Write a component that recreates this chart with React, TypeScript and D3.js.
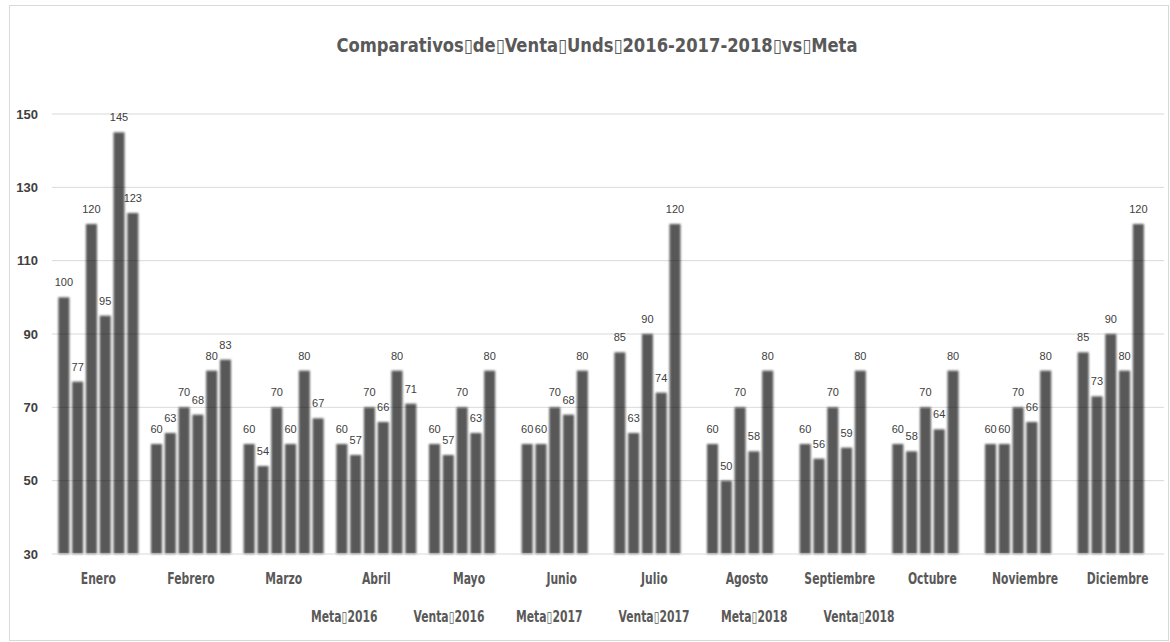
import React from "react";
import * as d3 from "d3";

const months = ["Enero","Febrero","Marzo","Abril","Mayo","Junio","Julio","Agosto","Septiembre","Octubre","Noviembre","Diciembre"];
const seriesNames = ["Meta\u25AF2016","Venta\u25AF2016","Meta\u25AF2017","Venta\u25AF2017","Meta\u25AF2018","Venta\u25AF2018"];
const meta2016 = [100,60,60,60,60,60,85,60,60,60,60,85];
const venta2016 = [77,63,54,57,57,60,63,50,56,58,60,73];
const meta2017 = [120,70,70,70,70,70,90,70,70,70,70,90];
const venta2017 = [95,68,60,66,63,68,74,58,59,64,66,80];
const meta2018 = [145,80,80,80,80,80,120,80,80,80,80,120];
const venta2018: (number | null)[] = [123,83,67,71,null,null,null,null,null,null,null,null];
const yTicks = [30,50,70,90,110,130,150];
const title = "Comparativos\u25AFde\u25AFVenta\u25AFUnds\u25AF2016-2017-2018\u25AFvs\u25AFMeta";

const W = 1170, H = 642;

export default function App() {
  const series = [meta2016, venta2016, meta2017, venta2017, meta2018, venta2018];
  const x0 = d3.scaleBand<string>().domain(months).range([52, 1164]).paddingInner(0.107).paddingOuter(0.0535);
  const x1 = d3.scaleBand<number>().domain(d3.range(6)).range([0, x0.bandwidth()]).paddingInner(0.2).paddingOuter(0.1);
  const y = d3.scaleLinear().domain([30, 150]).range([554, 114]);
  const narrow = "'Liberation Sans Narrow','DejaVu Sans Condensed',sans-serif";
  const sans = "'Liberation Sans',Arial,sans-serif";
  const sx = 0.8;

  const bars: { key: string; x: number; y: number; w: number; h: number; v: number }[] = [];
  months.forEach((m, i) => {
    series.forEach((s, j) => {
      const v = s[i];
      if (v == null) return;
      bars.push({ key: m + j, x: (x0(m) as number) + (x1(j) as number), y: y(v), w: x1.bandwidth(), h: y(30) - y(v), v });
    });
  });

  return (
    <svg width={W} height={H} style={{ position: "absolute", left: 0, top: 0, background: "#fff" }}>
      <defs>
        <filter id="soft" x="-30%" y="-10%" width="160%" height="120%">
          <feGaussianBlur stdDeviation="0.9" />
        </filter>
      </defs>
      <rect x={9.5} y={5.5} width={1159} height={635} fill="#fff" stroke="#d9d9d9" />
      <text x={597} y={52} textAnchor="middle" fontFamily={narrow} fontWeight="bold" fontSize={19} fill="#595959" textLength={521} lengthAdjust="spacingAndGlyphs">{title}</text>
      {yTicks.map(t => (
        <text key={t} x={38} y={y(t) + 4.5} textAnchor="end" fontFamily={sans} fontWeight="bold" fontSize={13} fill="#404040">{t}</text>
      ))}
      <g filter="url(#soft)">
        {bars.map(b => (
          <rect key={b.key} x={b.x} y={b.y} width={b.w} height={b.h} fill="#595959" />
        ))}
      </g>
      {yTicks.map(t => (
        <line key={t} x1={52} x2={1164} y1={y(t)} y2={y(t)} stroke={t === 30 ? "#d9d9d9" : "rgba(0,0,0,0.15)"} strokeWidth={1} />
      ))}
      {bars.map(b => (
        <text key={"l" + b.key} x={b.x + b.w / 2} y={b.y - 11} textAnchor="middle" fontFamily={sans} fontSize={11} fill="#404040">{b.v}</text>
      ))}
      {months.map(m => (
        <g key={m} transform={`translate(${(x0(m) as number) + x0.bandwidth() / 2},584) scale(${sx},1)`}>
          <text x={0} y={0} textAnchor="middle" fontFamily={narrow} fontWeight="bold" fontSize={15} fill="#595959">{m}</text>
        </g>
      ))}
      {seriesNames.map((n, i) => (
        <g key={n} transform={`translate(${311 + i * 102.5},622) scale(${sx},1)`}>
          <text x={0} y={0} fontFamily={narrow} fontWeight="bold" fontSize={15} fill="#595959">{n}</text>
        </g>
      ))}
    </svg>
  );
}
